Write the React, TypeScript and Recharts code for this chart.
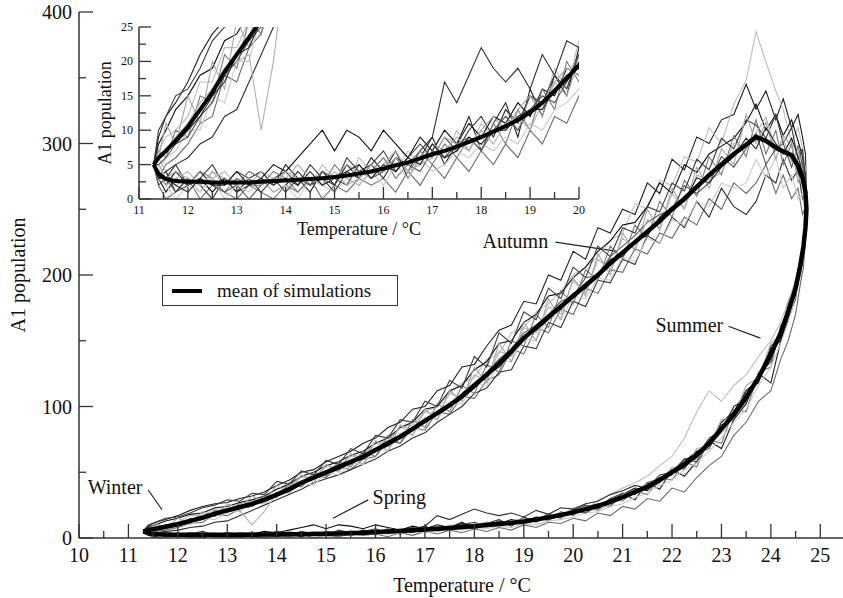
import React from "react";
import {
  LineChart,
  Line,
  XAxis,
  YAxis,
  CartesianGrid,
  Legend,
  Label,
  ReferenceLine,
  ReferenceDot,
} from "recharts";

// temperature path over one yearly cycle (shared by every run)
const springTemps = [
  11.3, 11.4, 11.55, 11.75, 12.0, 12.25, 12.5, 12.75, 13.0, 13.25,
  13.5, 13.75, 14.0, 14.25, 14.5, 14.75, 15.0, 15.25, 15.5, 15.75,
  16.0, 16.25, 16.5, 16.75, 17.0, 17.25, 17.5, 17.75, 18.0, 18.25,
  18.5, 18.75, 19.0, 19.25, 19.5, 19.75, 20.0, 20.25, 20.5, 20.75,
  21.0, 21.25, 21.5, 21.75, 22.0, 22.25, 22.5, 22.75, 23.0, 23.25,
  23.5, 23.75, 24.0, 24.2, 24.35, 24.5, 24.6, 24.66, 24.7,
];
const autumnTemps = [
  24.72, 24.7, 24.64, 24.55, 24.42, 24.25, 24.1, 23.9, 23.7, 23.5,
  23.25, 23.0, 22.75, 22.5, 22.25, 22.0, 21.75, 21.5, 21.25, 21.0,
  20.75, 20.5, 20.25, 20.0, 19.75, 19.5, 19.25, 19.0, 18.75, 18.5,
  18.25, 18.0, 17.75, 17.5, 17.25, 17.0, 16.75, 16.5, 16.25, 16.0,
  15.75, 15.5, 15.25, 15.0, 14.75, 14.5, 14.25, 14.0, 13.75, 13.5,
  13.25, 13.0, 12.75, 12.5, 12.25, 12.0, 11.75, 11.55, 11.4, 11.3,
];

const springMean = [
  5, 3.6, 2.9, 2.6, 2.5, 2.5, 2.4, 2.4, 2.4, 2.4,
  2.5, 2.6, 2.7, 2.8, 2.9, 3.0, 3.2, 3.4, 3.7, 4.0,
  4.4, 4.9, 5.3, 5.9, 6.5, 7.0, 7.6, 8.3, 9.0, 9.8,
  10.6, 11.5, 12.6, 14.0, 15.7, 17.5, 19.5, 22, 24.5, 27.5,
  31, 35, 39, 44, 50, 56, 63, 72, 83, 94,
  107, 122, 140, 156, 172, 190, 208, 222, 236,
];
const autumnMean = [
  250, 263, 274, 283, 291, 294, 297, 302, 305, 299,
  292, 284, 276, 267, 258, 250, 241, 233, 225, 217,
  209, 200, 192, 184, 176, 168, 160, 152, 142, 133,
  124, 116, 108, 101, 95, 89, 83, 77, 72, 67,
  62, 58, 54, 50, 46, 42, 37, 33, 29, 26,
  23.5, 21, 18.5, 15.5, 13, 10.5, 8.5, 7, 6, 5,
];

// individual simulations, spring branch (one row per run)
const springRuns = [
  [5, 3, 1, 3, 2, 4, 2, 3, 1, 3, 4, 2, 5, 3, 1, 4, 2, 5, 3, 6, 4, 7, 3, 6, 9, 5, 8, 12, 7, 11, 14, 9, 16, 12, 18, 15, 22, 19, 26, 24, 34, 29, 42, 37, 52, 47, 58, 74, 68, 90, 102, 125, 118, 150, 166, 182, 210, 218, 240],
  [5, 2, 0, 1, 3, 0, 2, 1, 0, 2, 1, 0, 2, 1, 3, 0, 2, 1, 3, 2, 3, 1, 4, 2, 5, 3, 6, 4, 7, 5, 8, 6, 10, 8, 12, 11, 15, 13, 19, 17, 24, 22, 30, 28, 38, 35, 46, 55, 62, 78, 88, 104, 112, 136, 150, 170, 194, 206, 228],
  [5, 6, 4, 2, 3, 1, 4, 2, 3, 2, 4, 3, 1, 4, 2, 5, 3, 2, 6, 4, 6, 4, 7, 5, 8, 6, 10, 7, 11, 9, 13, 10, 15, 13, 19, 16, 23, 21, 29, 33, 38, 42, 47, 55, 62, 76, 96, 112, 104, 116, 124, 138, 150, 164, 180, 196, 214, 226, 240],
  [5, 4, 2, 4, 2, 3, 1, 3, 2, 4, 3, 5, 4, 6, 8, 10, 7, 10, 9, 7, 10, 8, 6, 9, 7, 10, 8, 11, 9, 12, 11, 14, 12, 16, 15, 19, 18, 23, 22, 29, 33, 38, 36, 45, 51, 58, 66, 70, 88, 96, 112, 120, 144, 150, 174, 186, 210, 218, 238],
  [5, 3, 4, 1, 3, 2, 0, 3, 1, 2, 3, 1, 2, 4, 2, 3, 1, 4, 3, 5, 3, 6, 4, 7, 9, 17, 14, 18, 22, 19, 17, 19, 16, 21, 18, 23, 22, 26, 28, 33, 36, 40, 38, 48, 50, 60, 62, 76, 82, 100, 106, 124, 134, 158, 168, 190, 204, 226, 234],
  [5, 4, 2, 3, 2, 4, 3, 1, 3, 2, 2, 4, 3, 1, 3, 2, 5, 3, 2, 4, 6, 3, 5, 7, 5, 8, 6, 9, 7, 11, 8, 13, 10, 16, 13, 20, 17, 24, 21, 30, 28, 36, 33, 46, 44, 58, 54, 75, 72, 98, 96, 126, 130, 162, 166, 194, 200, 228, 232],
  [5, 3, 2, 0, 2, 1, 3, 0, 2, 1, 3, 1, 2, 0, 3, 2, 1, 3, 2, 4, 2, 5, 3, 6, 4, 5, 7, 6, 8, 7, 9, 8, 11, 10, 13, 14, 16, 19, 20, 24, 26, 31, 34, 40, 44, 52, 57, 66, 76, 88, 98, 116, 130, 148, 164, 184, 200, 218, 232],
  [5, 4, 3, 5, 2, 3, 5, 2, 4, 3, 1, 3, 4, 2, 5, 3, 2, 6, 4, 5, 7, 4, 6, 8, 6, 9, 7, 10, 12, 9, 13, 11, 15, 14, 18, 16, 21, 25, 23, 30, 34, 33, 42, 45, 48, 60, 58, 72, 86, 90, 112, 118, 146, 152, 178, 184, 212, 220, 242],
  [5, 5, 3, 4, 3, 2, 4, 3, 2, 4, 3, 2, 4, 3, 2, 4, 3, 5, 4, 3, 5, 7, 4, 6, 8, 7, 9, 7, 10, 12, 10, 13, 15, 12, 17, 19, 18, 24, 26, 25, 33, 36, 41, 43, 54, 52, 68, 70, 90, 92, 116, 122, 148, 154, 180, 188, 216, 222, 244],
  [5, 2, 3, 1, 2, 3, 2, 1, 2, 0, 2, 3, 1, 3, 2, 4, 3, 2, 5, 3, 4, 6, 5, 4, 7, 6, 8, 9, 7, 10, 12, 10, 13, 15, 14, 17, 21, 19, 24, 28, 30, 37, 37, 42, 52, 53, 64, 68, 84, 92, 104, 122, 136, 158, 168, 192, 204, 224, 236],
  [5, 4, 2, 3, 4, 2, 3, 4, 2, 3, 2, 3, 3, 5, 3, 2, 4, 2, 3, 5, 4, 6, 4, 5, 6, 9, 8, 7, 10, 8, 11, 12, 10, 14, 17, 15, 20, 22, 21, 26, 32, 34, 40, 42, 50, 56, 60, 70, 80, 92, 108, 120, 140, 154, 172, 188, 208, 222, 236],
  [5, 3, 3, 2, 1, 3, 2, 2, 4, 2, 3, 2, 3, 2, 4, 2, 3, 4, 5, 3, 5, 4, 6, 5, 8, 6, 7, 9, 8, 10, 10, 12, 13, 13, 16, 18, 19, 21, 25, 27, 31, 34, 39, 46, 49, 54, 65, 70, 82, 96, 106, 124, 138, 156, 172, 190, 208, 222, 236],
];

// individual simulations, autumn branch (one row per run)
const autumnRuns = [
  [265, 292, 305, 322, 312, 334, 318, 340, 326, 345, 322, 318, 300, 305, 280, 288, 262, 270, 246, 250, 232, 236, 212, 218, 196, 200, 178, 180, 162, 158, 146, 132, 130, 116, 112, 100, 98, 88, 84, 76, 72, 66, 62, 58, 52, 50, 44, 40, 35, 32, 30, 27, 26, 24, 21, 17, 14, 12, 9, 5],
  [236, 252, 246, 266, 258, 276, 262, 284, 270, 262, 270, 250, 258, 238, 244, 228, 232, 216, 220, 202, 204, 186, 190, 170, 174, 156, 160, 140, 144, 124, 120, 106, 108, 94, 96, 82, 84, 72, 74, 62, 60, 52, 54, 46, 47, 39, 40, 32, 30, 24, 22, 17, 18, 12, 11, 8, 6, 5, 3, 5],
  [258, 280, 296, 312, 300, 326, 340, 362, 385, 348, 330, 300, 312, 286, 290, 268, 272, 250, 254, 232, 226, 214, 206, 200, 188, 178, 172, 160, 156, 140, 136, 122, 118, 110, 100, 96, 86, 84, 74, 72, 64, 62, 55, 54, 47, 46, 40, 37, 31, 28, 26, 22, 22, 17, 17, 12, 10, 9, 7, 5],
  [256, 276, 290, 302, 318, 306, 322, 310, 330, 316, 304, 298, 292, 278, 284, 262, 270, 252, 240, 238, 226, 218, 206, 198, 186, 184, 170, 164, 150, 148, 134, 128, 116, 112, 100, 98, 88, 84, 76, 72, 66, 63, 58, 55, 50, 47, 41, 37, 32, 29, 27, 24, 23, 19, 18, 15, 13, 10, 8, 5],
  [244, 262, 258, 280, 272, 288, 270, 276, 256, 246, 252, 266, 244, 256, 236, 244, 224, 230, 208, 212, 194, 196, 176, 180, 160, 164, 144, 146, 128, 126, 114, 110, 100, 94, 88, 80, 76, 70, 66, 60, 56, 52, 48, 45, 42, 37, 33, 29, 25, 21, 17, 13, 12, 9, 8, 6, 5, 4, 3, 5],
  [250, 272, 288, 276, 300, 284, 310, 292, 318, 290, 306, 276, 290, 260, 272, 244, 256, 228, 238, 212, 222, 196, 204, 178, 188, 160, 170, 146, 150, 126, 132, 110, 116, 96, 102, 84, 90, 72, 78, 62, 66, 54, 58, 47, 50, 39, 42, 31, 32, 24, 26, 19, 21, 14, 15, 9, 10, 6, 7, 5],
  [240, 246, 262, 258, 276, 266, 290, 274, 288, 270, 266, 270, 252, 256, 238, 242, 224, 228, 210, 214, 196, 198, 182, 184, 166, 170, 150, 152, 134, 134, 116, 118, 102, 104, 90, 92, 78, 80, 66, 68, 56, 57, 48, 50, 40, 42, 34, 35, 26, 27, 20, 20, 14, 15, 10, 10, 7, 6, 4, 5],
  [258, 270, 296, 288, 312, 300, 322, 304, 314, 318, 296, 304, 280, 288, 264, 270, 248, 252, 232, 236, 214, 222, 198, 206, 182, 190, 166, 172, 148, 156, 130, 138, 114, 120, 100, 104, 88, 90, 76, 78, 64, 68, 56, 59, 48, 51, 41, 43, 33, 34, 28, 29, 25, 23, 19, 16, 15, 12, 10, 5],
  [248, 260, 280, 270, 298, 306, 288, 316, 300, 322, 284, 296, 266, 282, 250, 266, 234, 250, 218, 232, 200, 216, 184, 198, 166, 182, 150, 164, 134, 148, 118, 130, 104, 112, 90, 98, 78, 86, 66, 74, 56, 64, 50, 56, 42, 48, 34, 40, 28, 32, 22, 26, 16, 20, 11, 15, 8, 11, 6, 5],
  [252, 266, 284, 298, 282, 300, 296, 284, 308, 296, 282, 290, 270, 262, 268, 250, 246, 240, 230, 222, 214, 200, 198, 184, 180, 170, 162, 156, 144, 136, 126, 118, 110, 100, 96, 88, 84, 76, 72, 66, 62, 56, 54, 48, 46, 41, 37, 32, 29, 25, 23, 20, 18, 14, 12, 9, 8, 6, 5, 5],
  [246, 268, 276, 296, 286, 304, 294, 320, 308, 296, 300, 278, 272, 276, 250, 262, 236, 242, 220, 228, 204, 212, 186, 196, 170, 176, 156, 160, 138, 142, 120, 124, 106, 110, 94, 96, 82, 86, 70, 74, 60, 64, 52, 56, 44, 48, 38, 34, 20, 10, 21, 20, 19, 16, 14, 11, 9, 7, 6, 5],
  [254, 266, 278, 290, 304, 292, 300, 312, 296, 304, 290, 282, 270, 274, 256, 252, 244, 230, 226, 214, 212, 200, 190, 186, 176, 166, 158, 152, 140, 130, 124, 114, 106, 100, 94, 88, 82, 76, 70, 66, 60, 57, 52, 49, 45, 41, 36, 32, 28, 26, 22, 21, 17, 15, 12, 10, 8, 7, 6, 5],
];

const mainXTicks = [10, 10.5, 11, 11.5, 12, 12.5, 13, 13.5, 14, 14.5, 15, 15.5, 16, 16.5, 17, 17.5, 18, 18.5, 19, 19.5, 20, 20.5, 21, 21.5, 22, 22.5, 23, 23.5, 24, 24.5, 25];
const mainYTicks = [0, 50, 100, 150, 200, 250, 300, 350, 400];
const insetXTicks = [11, 11.5, 12, 12.5, 13, 13.5, 14, 14.5, 15, 15.5, 16, 16.5, 17, 17.5, 18, 18.5, 19, 19.5, 20];
const insetYTicks = [0, 2.5, 5, 7.5, 10, 12.5, 15, 17.5, 20, 22.5, 25];

// season labels with their pointer lines (in data units)
const notes = [
  { text: "Autumn", x: 18.83, y: 226, from: [19.64, 225], to: [20.89, 218] },
  { text: "Summer", x: 22.35, y: 162, from: [23.14, 161], to: [23.79, 152] },
  { text: "Winter", x: 10.73, y: 39, from: [11.4, 36.5], to: [11.68, 21.5] },
  { text: "Spring", x: 16.48, y: 31, from: [15.85, 29], to: [15.14, 15] },
];

const SERIF = "'Liberation Serif', 'DejaVu Serif', serif";
const INK = "#111";
const AXIS = "#333";
const runShades = [
  "#1e1e1e", "#6a6a6a", "#bcbcbc", "#0c0c0c", "#2e2e2e", "#7a7a7a",
  "#c8c8c8", "#3a3a3a", "#a6a6a6", "#555555", "#b0b0b0", "#242424",
];

const toPoints = (sp: number[], au: number[]) => [
  ...springTemps.map((t, i) => ({ t, v: sp[i] })),
  ...autumnTemps.map((t, i) => ({ t, v: au[i] })),
];
const meanData = toPoints(springMean, autumnMean);
const runData = springRuns.map((sp, i) => toPoints(sp, autumnRuns[i]));

type Side = "bottom" | "top" | "left" | "right";

const makeTick =
  (side: Side, step: number, longLen: number, shortLen: number, label?: { size: number; dx: number; dy: number }) =>
  (props: any) => {
    const { x, y, payload } = props;
    const v = payload.value as number;
    const major = Math.abs(v / step - Math.round(v / step)) < 1e-6;
    const len = major ? longLen : shortLen;
    let x2 = x;
    let y2 = y;
    if (side === "bottom") y2 = y - len;
    if (side === "top") y2 = y + len;
    if (side === "left") x2 = x + len;
    if (side === "right") x2 = x - len;
    return (
      <g>
        <line x1={x} y1={y} x2={x2} y2={y2} stroke={AXIS} strokeWidth={1.3} />
        {label && major && (
          <text
            x={x + label.dx}
            y={y + label.dy}
            textAnchor={side === "left" ? "end" : "middle"}
            fontSize={label.size}
            fontFamily={SERIF}
            fill={INK}
          >
            {v}
          </text>
        )}
      </g>
    );
  };

const xTitle = (text: string, size: number, dy: number) => (p: any) => {
  const vb = p.viewBox;
  return (
    <text x={vb.x + vb.width / 2} y={vb.y + dy} textAnchor="middle" fontSize={size} fontFamily={SERIF} fill={INK}>
      {text}
    </text>
  );
};

const yTitle = (text: string, size: number, dx: number) => (p: any) => {
  const vb = p.viewBox;
  const cx = vb.x + vb.width + dx;
  const cy = vb.y + vb.height / 2;
  return (
    <text
      x={cx}
      y={cy}
      transform={`rotate(-90, ${cx}, ${cy})`}
      textAnchor="middle"
      dominantBaseline="central"
      fontSize={size}
      fontFamily={SERIF}
      fill={INK}
    >
      {text}
    </text>
  );
};

const axisLine = { stroke: AXIS, strokeWidth: 1.5 };

function MeanLegend() {
  return (
    <div
      style={{
        boxSizing: "border-box",
        width: 236,
        height: 31,
        border: `1.5px solid ${AXIS}`,
        display: "flex",
        alignItems: "center",
        fontFamily: SERIF,
        fontSize: 19,
        color: INK,
        background: "#fff",
      }}
    >
      <span style={{ display: "inline-block", width: 30, height: 4, background: "#000", marginLeft: 9, marginRight: 15 }} />
      mean of simulations
    </div>
  );
}

function Runs({ thick }: { thick: number }) {
  return (
    <>
      {runData.map((d, i) => (
        <Line
          key={i}
          data={d}
          dataKey="v"
          type="linear"
          stroke={runShades[i]}
          strokeWidth={1.1}
          dot={false}
          legendType="none"
          isAnimationActive={false}
        />
      ))}
      <Line
        data={meanData}
        dataKey="v"
        name="mean of simulations"
        type="linear"
        stroke="#000"
        strokeWidth={thick}
        dot={false}
        isAnimationActive={false}
      />
    </>
  );
}

export default function App() {
  return (
    <div style={{ position: "absolute", left: 0, top: 0, width: 843, height: 598, overflow: "hidden", background: "#fff" }}>
      <LineChart width={850} height={598} margin={{ top: 12, right: 5, bottom: 20, left: 19 }}>
        <XAxis
          dataKey="t"
          type="number"
          domain={[10, 25.5]}
          ticks={mainXTicks}
          interval={0}
          allowDataOverflow
          height={40}
          tickSize={0}
          tickMargin={0}
          tickLine={false}
          axisLine={axisLine}
          tick={makeTick("bottom", 1, 14, 7, { size: 20, dx: 0, dy: 24 })}
        >
          <Label content={xTitle("Temperature / °C", 20, 54)} />
        </XAxis>
        <XAxis
          xAxisId="top"
          orientation="top"
          dataKey="t"
          type="number"
          domain={[10, 25.5]}
          ticks={mainXTicks}
          interval={0}
          allowDataOverflow
          height={0}
          tickSize={0}
          tickMargin={0}
          tickLine={false}
          axisLine={axisLine}
          tick={makeTick("top", 1, 14, 7)}
        />
        <YAxis
          type="number"
          domain={[0, 400]}
          ticks={mainYTicks}
          interval={0}
          allowDataOverflow
          width={60}
          tickSize={0}
          tickMargin={0}
          tickLine={false}
          axisLine={axisLine}
          tick={makeTick("left", 100, 14, 7, { size: 20, dx: -7, dy: 7 })}
        >
          <Label content={yTitle("A1 population", 20, -61)} />
        </YAxis>
        <YAxis
          yAxisId="right"
          orientation="right"
          type="number"
          domain={[0, 400]}
          ticks={mainYTicks}
          interval={0}
          allowDataOverflow
          width={0}
          tickSize={0}
          tickMargin={0}
          tickLine={false}
          axisLine={axisLine}
          tick={makeTick("right", 100, 14, 7)}
        />
        <Legend
          layout="horizontal"
          verticalAlign="middle"
          align="center"
          wrapperStyle={{ left: 162, top: 275, width: 236, height: 31 }}
          content={() => <MeanLegend />}
        />
        {notes.map((n) => (
          <ReferenceLine
            key={n.text + "-line"}
            segment={[
              { x: n.from[0], y: n.from[1] },
              { x: n.to[0], y: n.to[1] },
            ]}
            stroke="#222"
            strokeWidth={1.2}
            ifOverflow="visible"
          />
        ))}
        {notes.map((n) => (
          <ReferenceDot
            key={n.text}
            x={n.x}
            y={n.y}
            r={0}
            fill="none"
            stroke="none"
            ifOverflow="visible"
            label={{ value: n.text, position: "center", fontSize: 20, fontFamily: SERIF, fill: INK }}
          />
        ))}
        {Runs({ thick: 4.5 })}
      </LineChart>

      <div style={{ position: "absolute", left: 80, top: 20 }}>
        <LineChart width={510} height={230} margin={{ top: 7, right: 11, bottom: 21, left: 19 }}>
          <CartesianGrid horizontal={false} vertical={false} fill="#fff" />
          <XAxis
            dataKey="t"
            type="number"
            domain={[11, 20]}
            ticks={insetXTicks}
            interval={0}
            allowDataOverflow
            height={30}
            tickSize={0}
            tickMargin={0}
            tickLine={false}
            axisLine={axisLine}
            tick={makeTick("bottom", 1, 12, 7, { size: 12, dx: 0, dy: 15 })}
          >
            <Label content={xTitle("Temperature / °C", 18, 36)} />
          </XAxis>
          <XAxis
            xAxisId="top"
            orientation="top"
            dataKey="t"
            type="number"
            domain={[11, 20]}
            ticks={insetXTicks}
            interval={0}
            allowDataOverflow
            height={0}
            tickSize={0}
            tickMargin={0}
            tickLine={false}
            axisLine={axisLine}
            tick={makeTick("top", 1, 12, 7)}
          />
          <YAxis
            type="number"
            domain={[0, 25]}
            ticks={insetYTicks}
            interval={0}
            allowDataOverflow
            width={40}
            tickSize={0}
            tickMargin={0}
            tickLine={false}
            axisLine={axisLine}
            tick={makeTick("left", 5, 12, 7, { size: 12, dx: -6, dy: 4 })}
          >
            <Label content={yTitle("A1 population", 18, -34)} />
          </YAxis>
          <YAxis
            yAxisId="right"
            orientation="right"
            type="number"
            domain={[0, 25]}
            ticks={insetYTicks}
            interval={0}
            allowDataOverflow
            width={0}
            tickSize={0}
            tickMargin={0}
            tickLine={false}
            axisLine={axisLine}
            tick={makeTick("right", 5, 12, 7)}
          />
          {Runs({ thick: 4 })}
        </LineChart>
      </div>
    </div>
  );
}
